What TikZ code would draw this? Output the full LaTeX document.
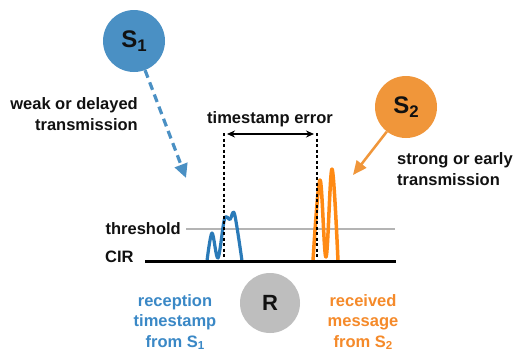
\documentclass[tikz,border=0pt]{standalone}
\usepackage{fontspec}
\usepackage{graphicx}
\setmainfont{Liberation Sans}
\usetikzlibrary{arrows.meta}
\definecolor{sblue}{HTML}{4A90C4}
\definecolor{pblue}{HTML}{2A7AB8}
\definecolor{tblue}{HTML}{3A88C6}
\definecolor{sorange}{HTML}{F0963A}
\definecolor{porange}{HTML}{FF8A14}
\definecolor{torange}{HTML}{F58A2A}
\definecolor{rgray}{HTML}{BEBEBE}
\definecolor{thgray}{HTML}{B4B4B4}
\definecolor{ink}{HTML}{111111}
% lowered index digit, about two thirds of the running size
\newcommand\idx[1]{\raisebox{-0.32ex}{\scalebox{0.7}{#1}}}
\begin{document}
\begin{tikzpicture}[x=1pt,y=-1pt,
  lbl/.style={font=\fontsize{16.5}{20.5}\selectfont\bfseries, text=ink, inner sep=0pt},
  station/.style={circle, inner sep=0pt, minimum size=62pt, text=ink,
    font=\fontsize{24}{24}\selectfont\bfseries},
  pulse/.style={line width=3.2pt, line cap=round, line join=round},
  marker/.style={line width=1.2pt, dash pattern=on 3pt off 2.5pt}]
\useasboundingbox (0,0) rectangle (513,354);
\fill[white] (0,0) rectangle (513,354);

% stations
\node[station, fill=sblue] (S1) at (134,41) {S\idx{1}};
\node[station, fill=sorange] (S2) at (406,107) {S\idx{2}};
\node[station, fill=rgray, minimum size=60pt, font=\fontsize{22}{22}\selectfont\bfseries] (R) at (270,303) {R};

% transmissions
\coordinate (t1) at (186,178);
\coordinate (t2) at (353,175);
\draw[sblue, line width=3.2pt, dash pattern=on 8pt off 5pt,
  -{Triangle[length=14pt,width=13pt]}] (S1) -- (t1);
\draw[sorange, line width=2.5pt, -{Triangle[length=14pt,width=12pt]}] (S2) -- (t2);

% labels
\node[lbl, anchor=east, align=right] (weak) at (138,114) {weak or delayed\\transmission};
\node[lbl, anchor=west, align=left] (strong) at (397,169) {strong or early\\transmission};
\node[lbl] (err) at (270,119) {timestamp error};
\node[lbl, anchor=east] (th) at (181,229) {threshold};
\node[lbl, anchor=west] (cir) at (105,257) {CIR};
\node[lbl, text=tblue, align=center] (rx1) at (175,322) {reception\\timestamp\\from S\idx{1}};
\node[lbl, text=torange, align=center] (rx2) at (363,322) {received\\message\\from S\idx{2}};

% threshold and CIR axis
\coordinate (thA) at (186,229);
\coordinate (thB) at (395,229);
\draw[thgray, line width=2pt] (thA) -- (thB);

% pulses
\draw[pblue, pulse] plot[smooth, tension=0.55] coordinates
  {(207,261) (212,233) (218,258) (224.5,219) (230,219.5) (234.5,214) (242,261)};
\draw[porange, pulse, line width=3.5pt] plot[smooth, tension=0.6] coordinates
  {(313,261) (320,180) (326,257) (332,169) (338,261)};

\coordinate (axA) at (145,261);
\coordinate (axB) at (396,261);
\draw[black, line width=3pt] (axA) -- (axB);

% timestamp markers
\coordinate (m1t) at (224,133);
\coordinate (m1b) at (224,260);
\coordinate (m2t) at (317,133);
\coordinate (m2b) at (317,260);
\draw[marker] (m1t) -- (m1b);
\draw[marker] (m2t) -- (m2b);
\coordinate (e1) at (227,134);
\coordinate (e2) at (314,134);
\draw[line width=1.3pt, {Stealth[length=8pt,width=7pt]}-{Stealth[length=8pt,width=7pt]}] (e1) -- (e2);
\end{tikzpicture}
\end{document}
